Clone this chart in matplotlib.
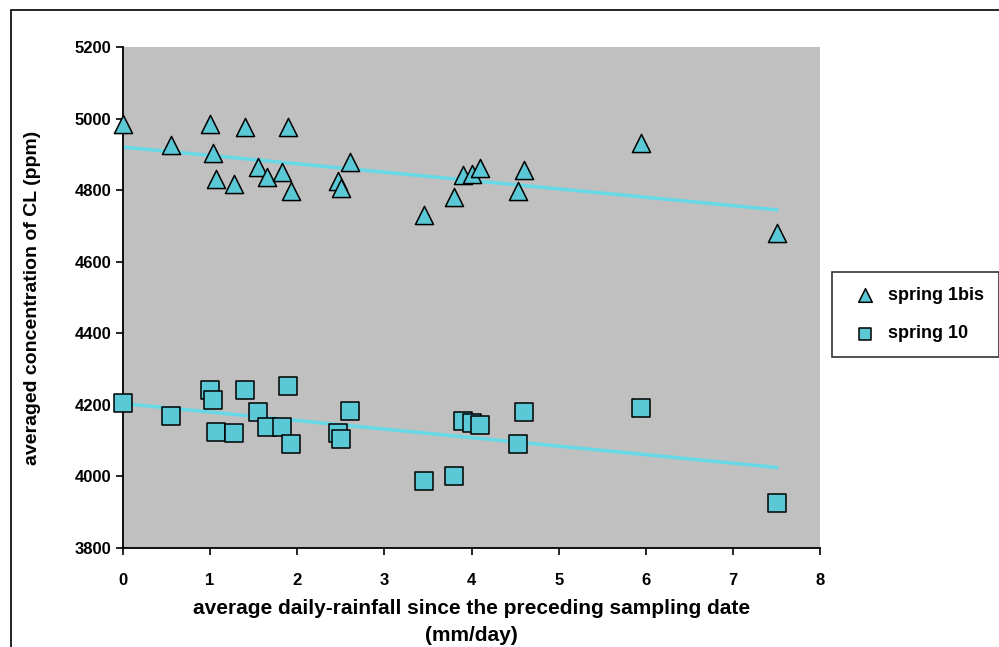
import matplotlib.pyplot as plt
import numpy as np

plt.rcParams['font.family'] = ['Liberation Sans', 'DejaVu Sans']

# rainfall (mm/day) shared by both springs
rain = [0, 0.55, 1.0, 1.03, 1.07, 1.27, 1.4, 1.55, 1.65, 1.83, 1.9, 1.93,
        2.47, 2.5, 2.6, 3.45, 3.8, 3.9, 4.0, 4.1, 4.53, 4.6, 5.95, 7.5]

spring_1bis = [4985, 4928, 4985, 4903, 4831, 4818, 4977, 4865, 4836, 4850, 4977, 4797,
               4825, 4806, 4878, 4730, 4782, 4843, 4846, 4862, 4797, 4856, 4932, 4682]

spring_10 = [4205, 4169, 4243, 4214, 4124, 4121, 4243, 4180, 4139, 4139, 4253, 4091,
             4121, 4105, 4183, 3988, 4001, 4155, 4150, 4143, 4091, 4180, 4191, 3927]

marker_col = '#5bc8d6'
line_col = '#66d8e6'

fig = plt.figure(figsize=(9.99, 6.47), dpi=100)
fig.patches.append(plt.Rectangle((0.011, -0.01), 0.99, 0.995, transform=fig.transFigure,
                                 fill=False, edgecolor='black', linewidth=1.2))
ax = fig.add_axes([0.123, 0.153, 0.698, 0.774])
ax.set_facecolor('#c0c0c0')

# linear trend lines
x = np.array(rain)
for vals in (spring_1bis, spring_10):
    a, b = np.polyfit(x, vals, 1)
    xs = np.array([0, 7.5])
    ax.plot(xs, a * xs + b, color=line_col, linewidth=2.5, zorder=2)

ax.scatter(rain, spring_1bis, marker='^', s=170, color=marker_col, edgecolor='black',
           linewidth=1.1, zorder=3, label='spring 1bis', clip_on=False)
ax.scatter(rain, spring_10, marker='s', s=150, color=marker_col, edgecolor='black',
           linewidth=1.1, zorder=3, label='spring 10', clip_on=False)

ax.set_xlim(0, 8)
ax.set_ylim(3800, 5200)
ax.set_xticks(range(0, 9))
ax.set_yticks(range(3800, 5201, 200))
ax.tick_params(labelsize=12, length=5, width=1.2)
ax.tick_params(axis='x', pad=13)
for t in ax.get_xticklabels() + ax.get_yticklabels():
    t.set_fontweight('bold')
for s in ['top', 'right']:
    ax.spines[s].set_visible(False)
ax.spines['left'].set_linewidth(1.3)
ax.spines['bottom'].set_linewidth(1.3)

ax.set_xlabel('average daily-rainfall since the preceding sampling date\n(mm/day)',
              fontsize=15, fontweight='bold', labelpad=8, linespacing=1.5)
ax.set_ylabel('averaged concentration of CL (ppm)', fontsize=14, fontweight='bold', labelpad=24)

leg = fig.legend(loc='upper left', bbox_to_anchor=(0.833, 0.579), frameon=True,
                 fancybox=False, edgecolor='black', markerscale=0.75,
                 prop={'size': 13, 'weight': 'bold'},
                 borderpad=0.8, labelspacing=1.2, handletextpad=0.3, borderaxespad=0)
leg.get_frame().set_linewidth(1.2)

plt.savefig('out.png', dpi=100)
